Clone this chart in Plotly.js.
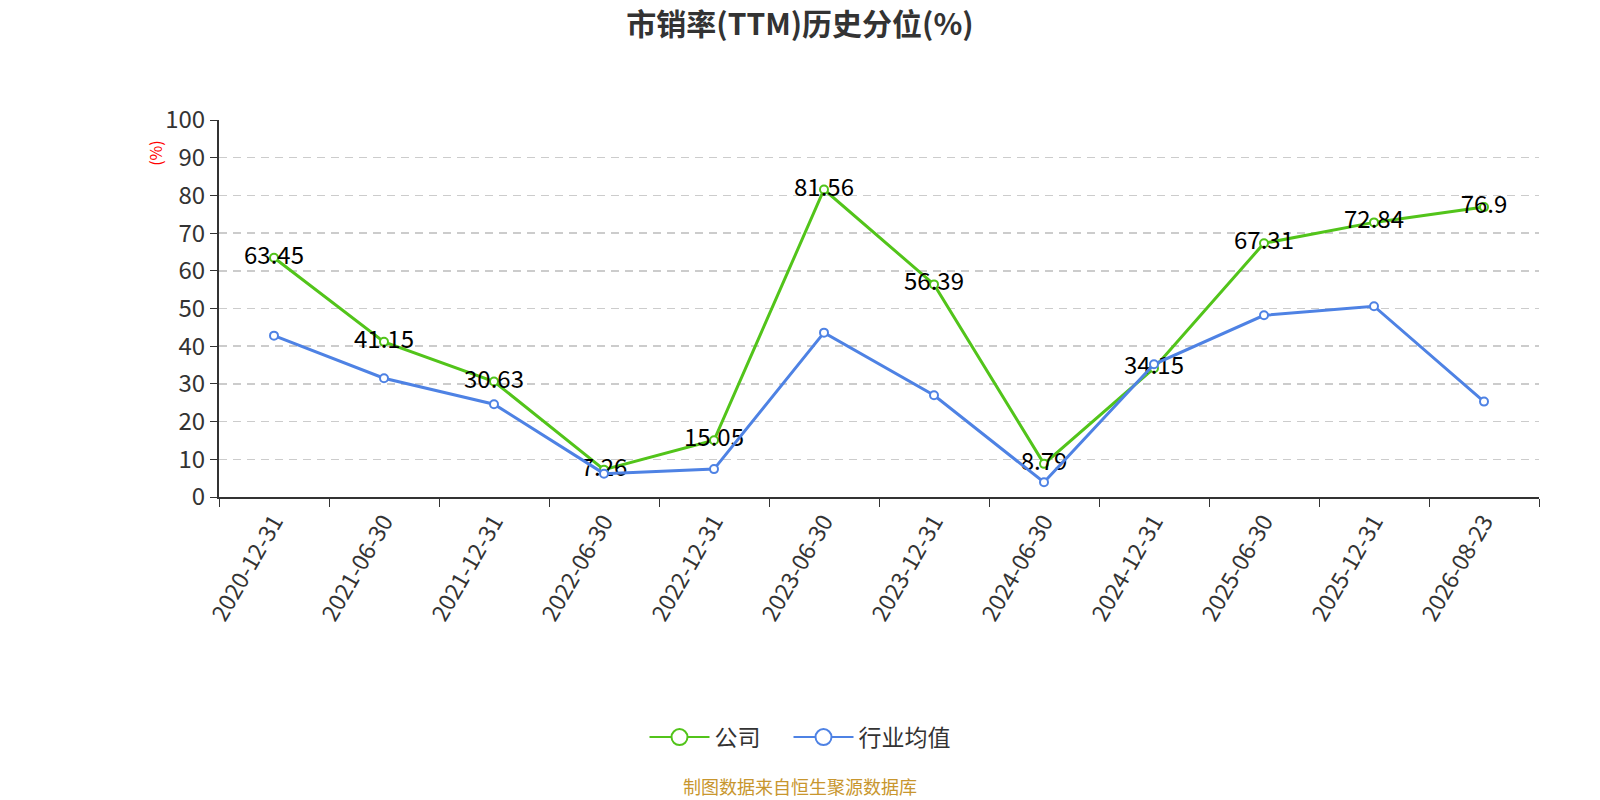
<!DOCTYPE html>
<html>
<head>
<meta charset="utf-8">
<script src="https://cdn.plot.ly/plotly-3.0.1.min.js"></script>
<style>
  html, body { margin: 0; padding: 0; background: #fff; }
  #chart { width: 1600px; height: 800px; }
</style>
</head>
<body>
<div id="chart"></div>
<script>
// Reporting dates (category axis).
const dates = [
  "2020-12-31", "2021-06-30", "2021-12-31", "2022-06-30", "2022-12-31", "2023-06-30",
  "2023-12-31", "2024-06-30", "2024-12-31", "2025-06-30", "2025-12-31", "2026-08-23",
];
// P/S (TTM) historical percentile, company.
const company = [63.45, 41.15, 30.63, 7.26, 15.05, 81.56, 56.39, 8.79, 34.15, 67.31, 72.84, 76.9];
// Industry average (no labels on that line).
const industry = [42.8, 31.5, 24.6, 6.2, 7.4, 43.6, 27.0, 3.9, 35.2, 48.2, 50.6, 25.3];

const FONT = "'Noto Sans CJK SC', 'Noto Sans', sans-serif";
const GREEN = "#52c41a";
const BLUE  = "#4e82e4";

// the page centre, in plot-area fractions (legend and footer sit on it)
const MID = (800 - 219) / 1320;

const data = [
  {
    type: "scatter",
    mode: "lines+markers+text",
    name: "公司",
    x: dates, y: company,
    text: company.map(String),
    textposition: "middle center",
    textfont: { family: FONT, size: 24, color: "#000" },
    line: { color: GREEN, width: 3 },
    marker: { symbol: "circle", size: 8, color: "#fff", line: { color: GREEN, width: 2 } },
    cliponaxis: false,
    showlegend: false,
  },
  {
    type: "scatter",
    mode: "lines+markers",
    name: "行业均值",
    x: dates, y: industry,
    line: { color: BLUE, width: 3 },
    marker: { symbol: "circle", size: 8, color: "#fff", line: { color: BLUE, width: 2 } },
    cliponaxis: false,
    showlegend: false,
  },
  // legend entries only, with the larger symbol the reference shows
  {
    type: "scatter", mode: "lines+markers", name: "公司\u3000",
    x: [null], y: [null],
    line: { color: GREEN, width: 2 },
    marker: { symbol: "circle", size: 16, color: "#fff", line: { color: GREEN, width: 2 } },
  },
  {
    type: "scatter", mode: "lines+markers", name: "行业均值",
    x: [null], y: [null],
    line: { color: BLUE, width: 2 },
    marker: { symbol: "circle", size: 16, color: "#fff", line: { color: BLUE, width: 2 } },
  },
];

const layout = {
  width: 1600, height: 800,
  paper_bgcolor: "#fff", plot_bgcolor: "#fff",
  font: { family: FONT, color: "#333", size: 22 },
  margin: { l: 219, r: 61, t: 120, b: 303 },
  title: {
    text: "<b>市销率(TTM)历史分位(%)</b>",
    font: { family: FONT, size: 30, color: "#333" },
    x: 0.5, xanchor: "center", y: 0.97, yanchor: "middle",
  },
  xaxis: {
    type: "category",
    range: [-0.5, dates.length - 0.5],
    tickson: "boundaries",
    ticks: "outside", ticklen: 8, tickcolor: "#333",
    tickangle: -60,
    tickfont: { family: FONT, size: 23, color: "#333" },
    showline: true, linecolor: "#333", linewidth: 2,
    showgrid: false, zeroline: false,
  },
  yaxis: {
    range: [0, 100],
    dtick: 10,
    ticks: "outside", ticklen: 7, tickcolor: "#333",
    tickfont: { family: FONT, size: 24, color: "#333" },
    showline: true, linecolor: "#333", linewidth: 2,
    showgrid: true, gridcolor: "#cccccc", griddash: "8px,6px", gridwidth: 1.5,
    zeroline: false,
  },
  showlegend: true,
  legend: {
    orientation: "h",
    x: MID, xanchor: "center",
    y: -0.637, yanchor: "middle",
    font: { family: FONT, size: 23, color: "#333" },
    itemwidth: 60,
  },
  annotations: [
    {
      text: "(%)", textangle: -90,
      xref: "paper", yref: "paper", x: -0.048, y: 0.912,
      xanchor: "center", yanchor: "middle", showarrow: false,
      font: { family: FONT, size: 16, color: "#ff0000" },
    },
    {
      text: "制图数据来自恒生聚源数据库",
      xref: "paper", yref: "paper", x: MID, y: -0.766,
      xanchor: "center", yanchor: "middle", showarrow: false,
      font: { family: FONT, size: 18, color: "#c8962e" },
    },
  ],
};

Plotly.newPlot("chart", data, layout, { displayModeBar: false, staticPlot: true });
</script>
</body>
</html>
